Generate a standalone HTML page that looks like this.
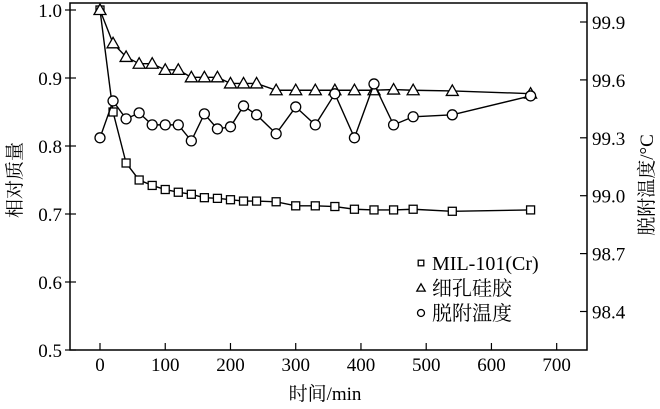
<!DOCTYPE html>
<html><head><meta charset="utf-8">
<style>
html,body{margin:0;padding:0;background:#fff;}
svg{display:block;}
text{font-family:"Liberation Serif","Noto Serif CJK SC",serif;fill:#000;}
</style></head>
<body>
<svg id="chart" width="660" height="409" viewBox="0 0 660 409" xmlns="http://www.w3.org/2000/svg">
<g id="axes"></g>
<g id="series"></g>
<g id="legend"></g>
</svg>
<script>
const times = [0,20,40,60,80,100,120,140,160,180,200,220,240,270,300,330,360,390,420,450,480,540,660];
const milMass = [1.0,0.850,0.775,0.750,0.742,0.736,0.732,0.729,0.724,0.723,0.721,0.719,0.719,0.718,0.712,0.712,0.711,0.707,0.706,0.706,0.707,0.704,0.706];
const silicaMass = [1.0,0.951,0.931,0.921,0.921,0.912,0.912,0.901,0.901,0.901,0.892,0.892,0.892,0.882,0.882,0.882,0.882,0.882,0.882,0.883,0.882,0.881,0.877];
const desorbTemp = [99.300,99.491,99.398,99.429,99.367,99.367,99.367,99.284,99.424,99.346,99.357,99.465,99.419,99.321,99.460,99.367,99.528,99.300,99.579,99.367,99.409,99.419,99.517];
const xTicks = [0,100,200,300,400,500,600,700];
const yLeftTicks = [0.5,0.6,0.7,0.8,0.9,1.0];
const yLeftLabels = ["0.5","0.6","0.7","0.8","0.9","1.0"];
const yRightTicks = [98.4,98.7,99.0,99.3,99.6,99.9];
const yRightLabels = ["98.4","98.7","99.0","99.3","99.6","99.9"];

const NS="http://www.w3.org/2000/svg";
const L=70,R=587,T=3,B=350;
const xs=v=>100+v*0.6524;
const yl=v=>350-(v-0.5)*680;
const yr=v=>22+(99.9-v)*193;
function mk(tag,attrs,parent){const e=document.createElementNS(NS,tag);for(const k in attrs)e.setAttribute(k,attrs[k]);parent.appendChild(e);return e;}
const axes=document.getElementById('axes'),series=document.getElementById('series'),legend=document.getElementById('legend');

let fr=mk('rect',{x:L,y:T,width:R-L,height:B-T,fill:'none',stroke:'#000','stroke-width':1.5},axes);



xTicks.forEach(t=>{
  let ln=mk('line',{x1:xs(t),x2:xs(t),y1:B,y2:B-7,stroke:'#000','stroke-width':1.2},axes);
  
  
  let tx=mk('text',{x:xs(t),y:B+21,'font-size':19,'text-anchor':'middle'},axes);
  tx.textContent=String(t);
  
  
});
yLeftTicks.forEach((t,i)=>{
  let ln=mk('line',{x1:L-5,x2:L+6,y1:yl(t),y2:yl(t),stroke:'#000','stroke-width':1.2},axes);
  
  
  let tx=mk('text',{x:L-8,y:yl(t)+7,'font-size':19,'text-anchor':'end'},axes);
  tx.textContent=yLeftLabels[i];
  
  
});
yRightTicks.forEach((t,i)=>{
  let ln=mk('line',{x1:R-7,x2:R,y1:yr(t),y2:yr(t),stroke:'#000','stroke-width':1.2},axes);
  
  
  let tx=mk('text',{x:R+5,y:yr(t)+7,'font-size':19,'text-anchor':'start'},axes);
  tx.textContent=yRightLabels[i];
  
  
});
let xt=mk('text',{x:325,y:400,'font-size':19,'text-anchor':'middle'},axes);
xt.textContent='时间/min';


let ylt=mk('text',{x:0,y:0,'font-size':19,'text-anchor':'middle',transform:'translate(21,180) rotate(-90)'},axes);
ylt.textContent='相对质量';


let yrt=mk('text',{x:0,y:0,'font-size':19,'text-anchor':'middle',transform:'translate(653,185) rotate(-90)'},axes);
yrt.textContent='脱附温度/°C';



function marker(type,x,y,parent,s){
  let e;
  if(type==='sq') e=mk('rect',{x:x-4*s,y:y-4*s,width:8*s,height:8*s,fill:'#fff',stroke:'#000','stroke-width':1.3},parent);
  else if(type==='tri') e=mk('polygon',{points:`${x},${y-6*s} ${x-6*s},${y+4.5*s} ${x+6*s},${y+4.5*s}`,fill:'#fff',stroke:'#000','stroke-width':1.3},parent);
  else e=mk('circle',{cx:x,cy:y,r:5*s,fill:'#fff',stroke:'#000','stroke-width':1.3},parent);
  return e;
}
function drawSeries(vals,ys,type,name){
  const g=mk('g',{},series);
  
  
  const pts=times.map((t,i)=>xs(t)+','+ys(vals[i])).join(' ');
  let pl=mk('polyline',{points:pts,fill:'none',stroke:'#000','stroke-width':1.4},g);
  
  
  times.forEach((t,i)=>{
    let m=marker(type,xs(t),ys(vals[i]),g,1);
    
    
  });
}
drawSeries(milMass,yl,'sq','mil-101-series');
drawSeries(silicaMass,yl,'tri','silica-gel-series');
drawSeries(desorbTemp,yr,'circ','desorption-temp-series');

const legItems=[['sq','MIL-101(Cr)'],['tri','细孔硅胶'],['circ','脱附温度']];
legItems.forEach((it,i)=>{
  const y=263+i*25;
  let m=marker(it[0],421,y,legend,0.7);
  
  
  let tx=mk('text',{x:432,y:y+7,'font-size':20},legend);
  tx.textContent=it[1];
  
  
});
</script>
</body></html>
